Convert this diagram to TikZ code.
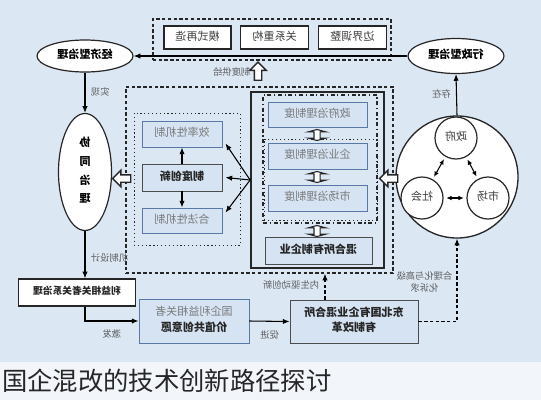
\documentclass[tikz,border=0pt]{standalone}
\usepackage{fontspec}
\setmainfont{Noto Sans CJK SC}
\usepackage{graphicx}
\usetikzlibrary{arrows.meta, calc, positioning, shapes.arrows, shapes.geometric}

\definecolor{bgblue}{HTML}{DCE7F4}
\definecolor{capband}{HTML}{F2F5FA}
\definecolor{boxfill}{HTML}{D5E3F3}
\definecolor{boxline}{HTML}{5878A6}
\definecolor{softtext}{HTML}{7A7A7A}
\definecolor{labeltext}{HTML}{5E5E5E}

\newlength{\pxu}
\setlength{\pxu}{0.75pt}
% the figure is printed mirror-wise
\newcommand{\mir}[1]{\reflectbox{\begin{tabular}{@{}c@{}}#1\end{tabular}}}

\begin{document}
\begin{tikzpicture}[
	x=\pxu, y=-\pxu,
	sz/.style 2 args = {minimum width=#1\pxu, minimum height=#2\pxu},
	base/.style = {inner sep=0pt, font=\fontsize{8.3}{10}\selectfont},
	plainbox/.style = {base, draw=black!85, fill=white, line width=0.9pt, text=black!75},
	bluebox/.style = {base, draw=boxline, fill=boxfill, line width=0.7pt, text=softtext},
	keybox/.style = {bluebox, draw=black!70, text=black!85, font=\fontsize{8.3}{10}\selectfont\bfseries},
	oval/.style = {base, ellipse, draw=black!85, fill=white, line width=0.9pt, font=\fontsize{8.3}{10}\selectfont\bfseries},
	roundel/.style = {base, circle, draw=black!85, fill=white, line width=0.9pt, text=black!75},
	frame/.style = {draw=black!85, line width=0.9pt, inner sep=0pt},
	dashy/.style = {dash pattern=on 2.5pt off 1.8pt},
	lab/.style = {font=\fontsize{7}{9}\selectfont, text=labeltext, inner sep=1pt},
	arrow/.style = {-{Latex[length=5pt, width=4pt]}, line width=0.8pt},
	both/.style = {{Latex[length=4pt, width=3.5pt]}-{Latex[length=4pt, width=3.5pt]}, line width=0.8pt, shorten >=2pt, shorten <=2pt},
	hollow/.style = {single arrow, draw=black!85, fill=white, line width=1pt, inner sep=3\pxu, single arrow head extend=4.5\pxu, minimum height=18\pxu},
	linker/.style = {double arrow, rotate=90, draw=black!85, fill=white, line width=0.8pt, inner sep=2.5\pxu, double arrow head extend=5.5\pxu, double arrow tip angle=150, minimum height=11\pxu},
	node distance = 8.5\pxu
]
\useasboundingbox (0,0) rectangle (541,400);
\fill[bgblue] (0,0) rectangle (541,362);
\fill[capband] (0,362) rectangle (541,400);
\node[anchor=west, inner sep=0pt, font=\fontsize{19}{22}\selectfont, text=black!85] (caption) at (2,381) {国企混改的技术创新路径探讨};

% top row
\node[frame, dashy, sz={238}{41}] (topframe) at (272,39.5) {};
\node[plainbox, sz={67}{23}] (reshape) at (197.5,37.5) {\mir{模式再造}};
\node[plainbox, sz={68}{23}, right=of reshape] (rebuild) {\mir{关系重构}};
\node[plainbox, sz={68}{23}, right=of rebuild] (border) {\mir{边界调整}};

\node[oval, sz={96}{32}] (econ) at (85,56) {\mir{经济型治理}};
\node[oval, sz={96}{35}] (admin) at (456,56) {\mir{行政型治理}};
\node[oval, sz={53}{117}] (coop) at (85,172) {\mir{协\\[4pt]同\\[4pt]治\\[4pt]理}};
\node[plainbox, sz={117}{27}, font=\fontsize{7.3}{9}\selectfont\bfseries, text=black!85] (stake) at (77,292.5) {\mir{利益相关者关系治理}};
\node[bluebox, sz={110}{44}] (cocreate) at (194,321) {\mir{国企利益相关者\\[2pt]{\bfseries\color{black!85}价值共创意愿}}};
\node[keybox, sz={128}{43}] (reform) at (354,321.5) {\mir{东北国有企业混合所\\[1pt]有制改革}};

% middle block
\node[frame, dashy, sz={267}{186}] (outer) at (259.5,180) {};
\node[frame, dotted, line width=0.7pt, sz={106}{132}] (mechframe) at (187,179) {};
\node[bluebox, sz={80}{26}] (eff) at (182,134) {\mir{效率性机制}};
\node[keybox, sz={80}{27}] (innov) at (182,177.5) {\mir{制度创新}};
\node[bluebox, sz={80}{25}] (legit) at (182,220.5) {\mir{合法性机制}};

\node[frame, line width=1.3pt, sz={133}{176}] (sysframe) at (317.5,180) {};
\node[frame, dash dot, sz={114}{128}] (govframe) at (320,159) {};
\node[frame, dotted, line width=0.7pt, sz={113}{81}] (entframe) at (320.5,179.5) {};
\node[bluebox, sz={99}{25}] (govsys) at (317.5,114.5) {\mir{政府治理制度}};
\node[bluebox, sz={99}{26}] (entsys) at (317.5,156) {\mir{企业治理制度}};
\node[bluebox, sz={99}{26}] (mktsys) at (317.5,198) {\mir{市场治理制度}};
\node[keybox, sz={107}{27}] (mixed) at (318.5,250.5) {\mir{混合所有制企业}};
\foreach \y [count=\i] in {135,177,231}
	\node[linker] (link\i) at (317,\y) {};

% actors
\node[roundel, line width=1pt, sz={122}{122}] (actors) at (457,177) {};
\node[roundel, sz={42}{42}] (state) at (456,138) {\mir{政府}};
\node[roundel, sz={42}{42}] (society) at (422,198) {\mir{社会}};
\node[roundel, sz={42}{42}] (market) at (488,198) {\mir{市场}};
\draw[both] (state) -- (society);
\draw[both] (state) -- (market);
\draw[both] (society) -- (market);

% hollow arrows
\node[hollow, rotate=90] (supply) at (258,73) {};
\node[lab, left=6\pxu of supply.center] {\mir{制度供给}};
\node[hollow, rotate=180] (toCoop) at (123.5,178.5) {};
\node[hollow, rotate=180] (toSys) at (390.5,178.5) {};

% connectors
\draw[arrow] (admin.west) -- (econ.east);
\draw[arrow] (econ) -- node[lab, right=3pt] {\mir{实现}} (coop);
\draw[arrow] (coop.south) -- node[lab, pos=0.6, right=3pt] {\mir{机制设计}} (coop.south |- stake.north);
\draw[arrow] (coop.south |- stake.south) |- node[lab, pos=0.75, below=5pt] {\mir{激发}} (cocreate.west);
\draw[arrow] (cocreate.east) -- node[lab, below=5pt] {\mir{促进}} (reform.west);
\coordinate (drive) at ($(reform.north)+(-29,0)$);
\draw[arrow, dashy] (drive) -- node[lab, left=3pt] {\mir{内生驱动创新}} (drive |- outer.south);
\draw[arrow, dashy] (reform.east) -| node[lab, pos=0.73, left=2pt] {\mir{合理化与高级\\化诉求}} (actors.south);
\draw[arrow] (actors.north) -- node[lab, left=3pt] {\mir{存在}} (admin.south);

\draw[arrow] (innov) -- (eff);
\draw[arrow] (innov) -- (legit);
\coordinate (fan) at (sysframe.west);
\draw[arrow] (fan) -- ($(eff.south east)+(3,-4)$);
\draw[arrow] (fan) -- ($(innov.east)+(3,0)$);
\draw[arrow] (fan) -- ($(legit.north east)+(3,5)$);
\end{tikzpicture}
\end{document}
